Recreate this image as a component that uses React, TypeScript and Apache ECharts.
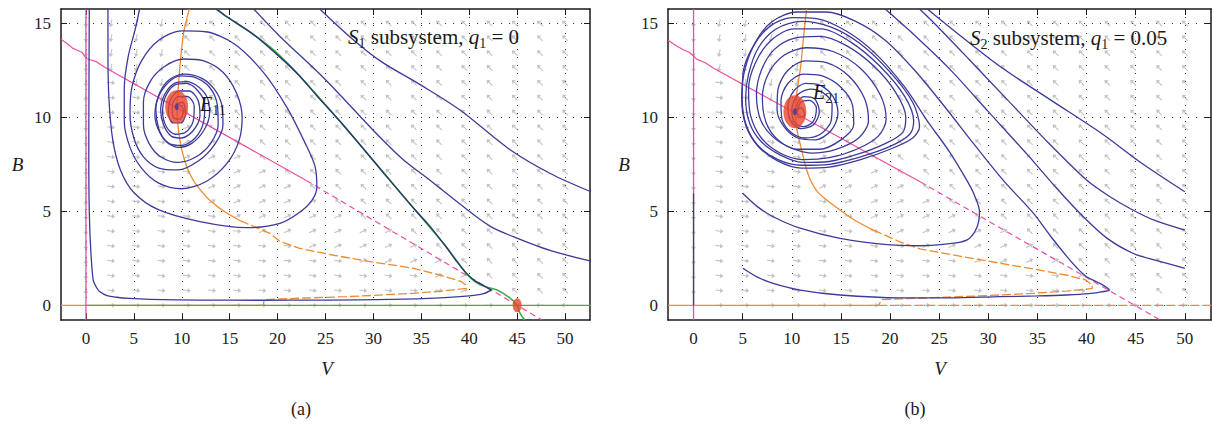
import React, { useEffect, useRef } from "react";
import * as echarts from "echarts";

const FONT = "Liberation Serif, serif";
const BLUE = "#3c3b9b";
const NAVY = "#27386c";
const GREEN = "#3fae4b";
const ORANGE = "#f28a2c";
const MAGENTA = "#ee4e9f";
const RED = "#e9452d";
const ARROW_GRAY = "#b4b4b4";

const X_TICKS = [0, 5, 10, 15, 20, 25, 30, 35, 40, 45, 50];
const Y_TICKS = [0, 5, 10, 15];

// vector-field grid
const FIELD_V = [0, 2.63, 5.26, 7.89, 10.53, 13.16, 15.79, 18.42, 21.05, 23.68, 26.32, 28.95, 31.58, 34.21, 36.84, 39.47, 42.11, 44.74, 47.37, 50];
const FIELD_B = [0, 0.79, 1.58, 2.37, 3.16, 3.95, 4.74, 5.53, 6.32, 7.11, 7.89, 8.68, 9.47, 10.26, 11.05, 11.84, 12.63, 13.42, 14.21, 15];
// rows from B = 15 (top) down to B = 0
const FIELD_DIR_A = [
  "dUUUUAAAAAAAAAAAAAAA",
  "dUUUAAAAAAAAAAAAAAAA",
  "dUUUAAAAAAAAAAAAAAAA",
  "dUUUAAAAAAAAAAAAAAAA",
  "dLUUAAAAAAAAAAAAAAAA",
  "dLLUAAAAAAAAAAAAAAAA",
  "dLLLAAAAAAAAAAAAAAAA",
  "dLLLRAAAAAAAAAAAAAAA",
  "dLLLRRAAAAAAAAAAAAAA",
  "dLLLRRRAAAAAAAAAAAAA",
  "dLLLLRRRAAAAAAAAAAAA",
  "dLLLLRRRRAAAAAAAAAAA",
  "dLLLLRRRRRAAAAAAAAAA",
  "dLLLLLRRRRRAAAAAAAAA",
  "dLLLLLLRRRRRRAAAAAAA",
  "dLLLLLLLLRRRRRAAAAAA",
  "dLLLLLLLLLLRRRRAAAAA",
  "dLLLLLLLLLLLLLRRAAAA",
  "dLLLLLLLLLLLLLLRRAAA",
  ".rrrrrrrrrrrrrrrrrll",
];
const FIELD_DIR_B = [
  "dUUUUAAAAAAAAAAAAAAA",
  "dUUUUAAAAAAAAAAAAAAA",
  "dUUUUAAAAAAAAAAAAAAA",
  "dUUUUAAAAAAAAAAAAAAA",
  "dLUUUAAAAAAAAAAAAAAA",
  "dLLUUAAAAAAAAAAAAAAA",
  "dLLLAAAAAAAAAAAAAAAA",
  "dLLLLAAAAAAAAAAAAAAA",
  "dLLLLRAAAAAAAAAAAAAA",
  "dLLLLRRAAAAAAAAAAAAA",
  "dLLLLRRRAAAAAAAAAAAA",
  "dLLLLRRRRAAAAAAAAAAA",
  "dLLLLLRRRRAAAAAAAAAA",
  "dLLLLLLRRRRAAAAAAAAA",
  "dLLLLLLLRRRRRAAAAAAA",
  "dLLLLLLLLRRRRRAAAAAA",
  "dLLLLLLLLLLRRRRAAAAA",
  "dLLLLLLLLLLLLLLRAAAA",
  "dLLLLLLLLLLLLLLLRAAA",
  ".rrrrrrrrrrrrrrrrrll",
];
const DIR_ANGLE: Record<string, number> = { A: 135, U: 258, L: -8, R: 25, d: 270, r: 0, l: 180 };

// ---------- panel (a): S1 subsystem ----------
const A_MAGENTA_SOLID = [[-2.6, 14.15], [-1.9, 13.9], [-1.4, 13.68], [-0.97, 13.58], [-0.4, 13.45], [0, 13.14], [0.5, 13.05], [1.1, 12.96], [2, 12.65], [23, 6.64]];
const A_MAGENTA_DASH = [[23, 6.64], [47.6, -0.78]];
const A_MAGENTA_V0 = [[0, -0.78], [0, 15.76]];
const A_ORANGE_SOLID = [[10.8, 15.76], [10.5, 15.2], [10.2, 14.5], [9.9, 13.2], [9.7, 12], [9.55, 11], [9.5, 10.5], [9.6, 9.6], [9.8, 8.8], [10.0, 8.27], [10.5, 7.4], [11.2, 6.65], [12.0, 6.1], [12.9, 5.6], [14.4, 5.0], [16.1, 4.5]];
const A_ORANGE_DASH = [[16.1, 4.5], [19.2, 3.83], [20.25, 3.4], [22.3, 3.03], [26, 2.65], [30, 2.3], [34.2, 1.97], [37, 1.6], [39.2, 1.26], [39.6, 1.1], [39.7, 0.9], [37, 0.75], [34.2, 0.64], [30, 0.53], [27.2, 0.46], [23, 0.39], [20.3, 0.34], [18.6, 0.3], [18.5, 0]];
const A_ORANGE_AXIS = [[-2.6, 0], [18.5, 0]];
const A_GREEN_AXIS = [[0, 0], [52.7, 0]];
const A_GREEN_MANIFOLD = [[13.6, 15.76], [14.7, 15.35], [17.5, 14.4], [19.55, 13.6], [22.3, 12.2], [27, 9.5], [31.7, 6.66], [34.2, 5.16], [37.6, 3.1], [39.7, 1.7], [41.1, 1.1], [42.9, 0.81], [44.3, 0.37], [45, 0], [45.3, -0.43], [45.8, -0.78]];
const A_BLUE_BOTTOM = [[0.35, 15.76], [0.32, 12], [0.3, 8], [0.35, 5], [0.5, 3], [0.76, 1.35], [1.1, 0.95], [1.46, 0.72], [2.2, 0.52], [3.2, 0.43], [4.5, 0.37], [6.7, 0.32], [12, 0.28], [18.2, 0.27], [25, 0.28], [32, 0.32], [37, 0.4], [40, 0.5], [41.5, 0.62], [42.3, 0.81]];
const A_NAVY = [[42.3, 0.81], [41.5, 1.05], [40.6, 1.3], [39.7, 1.7], [38.6, 2.4], [37.6, 3.1], [35.9, 4.2], [34.2, 5.16], [31.7, 6.66], [27, 9.5], [24, 11.2], [22.3, 12.2], [20.25, 13.2], [17.5, 14.4], [14.7, 15.35], [13.6, 15.76]];
const A_R1 = [[24.4, 15.76], [27.5, 14.3], [30.7, 13.0], [35, 11.7], [39, 10.4], [44.3, 8.26], [48.5, 7.0], [52.7, 6.04]];
const A_R2 = [[17.5, 15.76], [20.25, 14.3], [25, 12.0], [30, 9.3], [33, 7.8], [35.9, 6.65], [39.5, 5.2], [42.2, 4.2], [44.6, 3.65], [47.4, 3.1], [50, 2.7], [52.7, 2.35]];
const A_S1 = [[2.3, 15.76], [2.3, 13.5], [2.4, 11], [2.8, 8.8], [3.6, 7.2], [5, 6.0], [7.5, 5.1], [11.9, 4.45], [16.8, 4.13], [20.25, 4.36], [22.3, 4.95], [23.6, 5.6], [24.1, 6.3], [23.9, 7.4], [22.9, 8.6], [21, 10.5], [18.5, 12.4], [15.5, 13.9], [12.5, 14.55], [10, 14.6], [7.6, 14.1], [5.8, 13.0], [4.8, 11.6], [4.6, 10.2], [5.0, 8.9], [6.0, 7.9], [7.6, 7.3], [9.6, 7.2], [11.8, 7.7], [13.5, 8.6], [14.3, 9.6], [14.2, 10.6], [13.4, 11.5], [12.0, 12.1], [10.3, 12.3], [8.7, 12.0], [7.7, 11.3], [7.3, 10.4], [7.6, 9.4], [8.4, 8.7], [9.6, 8.4], [11, 8.6], [12.3, 9.3], [12.9, 10.2], [12.7, 11], [11.8, 11.6], [10.5, 11.9], [9.2, 11.8], [8.2, 11.2], [7.8, 10.4], [8.1, 9.6], [8.9, 9.0], [10, 8.9], [11.2, 9.3], [11.9, 10.1], [11.7, 10.9], [10.8, 11.4], [9.7, 11.4], [8.8, 10.9], [8.6, 10.2], [9.1, 9.7], [9.9, 9.7], [10.4, 10.2], [10.1, 10.8], [9.5, 10.7]];
const A_S2 = [[5.6, 15.76], [5.2, 14.8], [4.4, 13.2], [4.0, 11.5], [4.0, 9.8], [4.6, 8.4], [5.8, 7.3], [7.6, 6.5], [10, 6.2], [12.6, 6.6], [14.8, 7.6], [16, 8.8], [16.3, 10], [15.7, 11.3], [14.3, 12.4], [12.3, 13.0], [10.2, 13.1], [8.2, 12.7], [6.7, 11.9], [6.0, 10.8], [6.0, 9.6], [6.6, 8.6], [7.8, 7.9], [9.6, 7.6], [11.5, 7.9], [13, 8.6], [13.8, 9.6], [13.7, 10.7], [12.9, 11.6], [11.5, 12.1], [9.9, 12.2], [8.5, 11.8], [7.5, 11.0], [7.2, 10.1], [7.7, 9.2], [8.7, 8.6], [10, 8.5], [11.4, 8.9], [12.3, 9.8], [12.4, 10.7], [11.7, 11.4], [10.5, 11.8], [9.2, 11.7], [8.3, 11.1], [8.0, 10.3], [8.4, 9.5], [9.3, 9.1], [10.4, 9.2], [11.2, 9.8], [11.3, 10.6], [10.6, 11.1], [9.6, 11.1], [9.0, 10.6], [9.1, 10.0], [9.8, 9.9], [10.2, 10.4], [9.7, 10.7]];
const A_EQ = [[9.47, 10.56]];
const A_SADDLE = [[45, 0]];

// ---------- panel (b): S2 subsystem ----------
const B_MAGENTA_SOLID = [[-2.6, 14.1], [-1.8, 13.82], [-1.0, 13.58], [-0.4, 13.45], [0.35, 13.08], [1.2, 12.9], [2, 12.62], [23.06, 6.57]];
const B_MAGENTA_DASH = [[23.06, 6.57], [47.5, -0.78]];
const B_MAGENTA_V0 = [[0, -0.78], [0, 15.76]];
const B_BLUE_V0 = [[0, 5.96], [0, 0]];
const B_ORANGE_SOLID = [[11.5, 15.76], [11.2, 14.3], [10.9, 12.7], [10.5, 11.3], [10.35, 10.4], [10.5, 9.4], [11.0, 8.26], [11.4, 7.4], [11.9, 6.65], [12.6, 6.05], [13.55, 5.6], [14.9, 5.07], [16.5, 4.5], [18.3, 4.0]];
const B_ORANGE_DASH = [[18.3, 4.0], [21, 3.38], [23.05, 3.0], [25.1, 2.8], [30, 2.35], [34.6, 1.93], [38, 1.6], [39.9, 1.35], [40.5, 1.1], [40.6, 0.9], [38, 0.76], [34.6, 0.64], [30, 0.52], [25, 0.42], [21, 0.34], [19.2, 0.3], [18.8, 0]];
const B_ORANGE_AXIS_SOLID = [[-2.6, 0], [18.8, 0]];
const B_ORANGE_AXIS_DASH = [[18.8, 0], [52.7, 0]];
const B_II = [[5.0, 5.96], [6.5, 5.25], [8.1, 4.71], [10.85, 4.1], [14.9, 3.56], [20, 3.21], [23, 3.17], [25.4, 3.24], [27.8, 3.47], [28.8, 4.1], [29.1, 4.98], [28.5, 5.96], [27.8, 6.66], [26, 8.2], [23.8, 9.8], [21.5, 11.6], [18.5, 13.4], [15.5, 14.6], [12.5, 15.25], [10, 15.3], [7.8, 14.85], [6.1, 13.8], [5.05, 12.4], [4.95, 11], [5.35, 9.6], [6.55, 8.5], [8.6, 7.75], [11, 7.45], [13.8, 7.5], [17, 7.9], [20, 8.45], [22, 9.1], [22.4, 9.8], [21.5, 11.1], [19, 12.7], [16, 14.0], [13, 14.7], [10.2, 14.7], [7.9, 14.1], [6.3, 12.9], [5.6, 11.5], [5.8, 10.1], [6.9, 8.9], [8.8, 8.1], [11.1, 7.75], [13.8, 7.85], [16.6, 8.3], [18.8, 9.0], [19.6, 9.9], [19, 11.2], [17, 12.6], [14.2, 13.5], [11.5, 13.7], [9.2, 13.3], [7.6, 12.3], [7, 11], [7.4, 9.7], [8.6, 8.8], [10.5, 8.3], [12.8, 8.3], [15, 8.8], [16.3, 9.6], [16.2, 10.6], [15, 11.6], [13.1, 12.2], [11.2, 12.3], [9.6, 11.8], [8.9, 10.9], [9.0, 9.9], [9.9, 9.2], [11.3, 8.9], [12.9, 9.1], [14, 9.8], [14.1, 10.7], [13.2, 11.3], [11.9, 11.5], [10.6, 11.2], [10, 10.4], [10.3, 9.7], [11.2, 9.5], [12.2, 9.8], [12.5, 10.5], [11.8, 10.9], [10.9, 10.8], [10.6, 10.3]];
const B_III = [[5.02, 1.97], [6.5, 1.5], [8.1, 1.17], [10.85, 0.81], [14.9, 0.55], [21, 0.4], [26, 0.4], [31.2, 0.46], [35, 0.5], [38, 0.55], [40.2, 0.62], [41.5, 0.72], [42.3, 0.81], [41.5, 1.13], [40, 1.52], [39, 2.0], [38, 2.59], [36.3, 3.7], [34.6, 4.89], [31.5, 6.66], [28.5, 8.6], [25.5, 10.6], [22.5, 12.5], [19.5, 14.1], [16.5, 15.1], [13.5, 15.6], [10.5, 15.6], [8, 15.1], [6.3, 14.0], [5.2, 12.5], [4.9, 11], [5.3, 9.6], [6.5, 8.5], [8.5, 7.7], [11, 7.3], [13.8, 7.35], [17, 7.75], [20, 8.3], [22.3, 8.9], [23, 9.5], [22.3, 10.8], [20, 12.4], [17, 13.9], [14, 14.8], [11, 15.1], [8.4, 14.7], [6.6, 13.7], [5.6, 12.3], [5.3, 11], [5.7, 9.7], [6.9, 8.7], [8.8, 8.0], [11.1, 7.6], [13.8, 7.65], [16.8, 8.05], [19.5, 8.6], [21.3, 9.2], [21.6, 10.0], [20.6, 11.3], [18.4, 12.7], [15.6, 13.8], [12.8, 14.3], [10.2, 14.2], [8.2, 13.6], [6.9, 12.5], [6.4, 11.2], [6.8, 9.9], [8, 9.0], [9.8, 8.4], [12, 8.1], [14.5, 8.3], [16.8, 8.9], [17.8, 9.8], [17.4, 11.0], [15.8, 12.2], [13.6, 12.9], [11.4, 13.0], [9.6, 12.5], [8.6, 11.5], [8.5, 10.4], [9.2, 9.5], [10.6, 8.9], [12.4, 8.8], [14.0, 9.3], [14.7, 10.2], [14.2, 11.1], [12.9, 11.7], [11.4, 11.8], [10.2, 11.4], [9.6, 10.6], [9.9, 9.8], [10.9, 9.4], [12.2, 9.6], [12.8, 10.3], [12.3, 11], [11.2, 11.1], [10.5, 10.6], [10.7, 10.0], [11.3, 10.1], [11.0, 10.5], [10.4, 10.4]];
const B_RA = [[50, 6.04], [45.5, 7.6], [41.5, 9.15], [36.4, 10.9], [31.2, 12.7], [27, 14.4], [25.1, 15.2], [23.8, 15.76]];
const B_RB = [[50, 4.0], [47, 4.5], [44.7, 5.07], [42.3, 5.8], [40, 6.66], [36, 8.7], [32, 10.9], [28, 13.1], [24.5, 15.0], [23, 15.76]];
const B_RC = [[50, 1.97], [47, 2.4], [44.7, 2.77], [42, 3.6], [39.5, 4.8], [37, 6.2], [34, 8.0], [30, 10.3], [26, 12.6], [22, 14.6], [19.5, 15.76]];
const B_EQ = [[10.31, 10.3]];

const ARROW = "path://M0,3.4L6,3.4L6,1.2L10,4L6,6.8L6,4.6L0,4.6Z";

function fieldData(dirs: string[]) {
  const out: any[] = [];
  dirs.forEach((row, r) => {
    const b = FIELD_B[FIELD_B.length - 1 - r];
    for (let k = 0; k < row.length; k++) {
      const ch = row[k];
      if (ch === ".") continue;
      out.push({ value: [FIELD_V[k], b], symbolRotate: DIR_ANGLE[ch] });
    }
  });
  return out;
}

function ln(data: number[][], gi: number, color: string, width = 1.3, type: any = "solid", smooth: number | boolean = false) {
  return {
    type: "line",
    xAxisIndex: gi * 2,
    yAxisIndex: gi * 2,
    data,
    showSymbol: false,
    symbol: "none",
    silent: true,
    clip: true,
    smooth,
    z: 3,
    lineStyle: { color, width, type },
  };
}

function axesFor(gi: number, xmin: number, xmax: number) {
  const lineCol = "#1a1a1a";
  const lbl = { show: true, color: "#222", fontFamily: FONT, fontSize: 17, fontWeight: "normal", margin: 10 };
  const x = [
    {
      type: "value", gridIndex: gi, min: xmin, max: xmax, position: "bottom",
      axisLine: { show: true, onZero: false, lineStyle: { color: lineCol, width: 1.5 } },
      axisTick: { show: true, inside: true, length: 6, customValues: X_TICKS, lineStyle: { color: lineCol, width: 1 } },
      axisLabel: { ...lbl, customValues: X_TICKS },
      splitLine: { show: true, lineStyle: { color: "#333", width: 1, type: [1, 7] } },
    },
    {
      type: "value", gridIndex: gi, min: xmin, max: xmax, position: "top",
      axisLine: { show: true, onZero: false, lineStyle: { color: lineCol, width: 1.5 } },
      axisTick: { show: true, inside: true, length: 6, customValues: X_TICKS, lineStyle: { color: lineCol, width: 1 } },
      axisLabel: { show: false },
      splitLine: { show: false },
    },
  ];
  const y = [
    {
      type: "value", gridIndex: gi, min: -0.78, max: 15.76, position: "left",
      axisLine: { show: true, onZero: false, lineStyle: { color: lineCol, width: 1.5 } },
      axisTick: { show: true, inside: true, length: 6, customValues: Y_TICKS, lineStyle: { color: lineCol, width: 1 } },
      axisLabel: { ...lbl, customValues: Y_TICKS },
      splitLine: { show: true, lineStyle: { color: "#333", width: 1, type: [1, 7] } },
    },
    {
      type: "value", gridIndex: gi, min: -0.78, max: 15.76, position: "right",
      axisLine: { show: true, onZero: false, lineStyle: { color: lineCol, width: 1.5 } },
      axisTick: { show: true, inside: true, length: 6, customValues: Y_TICKS, lineStyle: { color: lineCol, width: 1 } },
      axisLabel: { show: false },
      splitLine: { show: false },
    },
  ];
  return { x, y };
}

function richText(x: number, y: number, text: string, size: number, subSize: number, subPad: number) {
  return {
    type: "text", x, y, z: 100, silent: true,
    style: {
      text, fill: "#1a1a1a", fontFamily: FONT, fontSize: size, align: "left", verticalAlign: "middle",
      rich: {
        i: { fontFamily: FONT, fontSize: size, fontStyle: "italic", fill: "#1a1a1a" },
        n: { fontFamily: FONT, fontSize: size, fill: "#1a1a1a" },
        s: { fontFamily: FONT, fontSize: subSize, fill: "#1a1a1a", padding: [subPad, 0, 0, 0] },
      },
    },
  };
}

function plainText(x: number, y: number, text: string, size: number, italic: boolean) {
  return {
    type: "text", x, y, z: 100, silent: true,
    style: {
      text, fill: "#1a1a1a", align: "center", verticalAlign: "middle",
      fontFamily: FONT, fontSize: size, fontStyle: italic ? "italic" : "normal",
    },
  };
}

export default function App() {
  const ref = useRef<HTMLDivElement>(null);
  useEffect(() => {
    if (!ref.current) return;
    const chart = echarts.init(ref.current, undefined, { renderer: "svg" });
    const a = axesFor(0, -2.6, 52.6);
    const b = axesFor(1, -2.6, 52.66);
    const S = 0.3;
    const series: any[] = [
      // panel (a)
      { type: "scatter", xAxisIndex: 0, yAxisIndex: 0, data: fieldData(FIELD_DIR_A), symbol: ARROW, symbolSize: [8, 5], itemStyle: { color: ARROW_GRAY }, silent: true, z: 1 },
      ln(A_ORANGE_AXIS, 0, ORANGE, 1.4),
      ln(A_GREEN_AXIS, 0, GREEN, 1.4),
      ln(A_MAGENTA_V0, 0, MAGENTA, 1.3),
      ln(A_MAGENTA_SOLID, 0, MAGENTA, 1.2),
      ln(A_MAGENTA_DASH, 0, MAGENTA, 1.2, [6, 4]),
      ln(A_ORANGE_SOLID, 0, ORANGE, 1.3, "solid", S),
      ln(A_ORANGE_DASH, 0, ORANGE, 1.3, [9, 3]),
      ln(A_GREEN_MANIFOLD, 0, GREEN, 1.6, "solid", S),
      ln(A_R1, 0, BLUE, 1.3, "solid", S),
      ln(A_R2, 0, BLUE, 1.3, "solid", S),
      ln(A_S1, 0, BLUE, 1.3, "solid", S),
      ln(A_S2, 0, BLUE, 1.3, "solid", S),
      ln(A_BLUE_BOTTOM, 0, BLUE, 1.3, "solid", S),
      ln(A_NAVY, 0, NAVY, 1.4, "solid", S),
      { type: "scatter", xAxisIndex: 0, yAxisIndex: 0, data: A_EQ, symbol: "circle", symbolSize: [23, 33], itemStyle: { color: RED }, silent: true, z: 6 },
      { type: "scatter", xAxisIndex: 0, yAxisIndex: 0, data: A_SADDLE, symbol: "circle", symbolSize: [9, 14], itemStyle: { color: RED }, silent: true, z: 6 },
      { type: "scatter", xAxisIndex: 0, yAxisIndex: 0, data: A_EQ, symbol: "circle", symbolSize: [4, 7], itemStyle: { color: BLUE }, silent: true, z: 7 },
      // panel (b)
      { type: "scatter", xAxisIndex: 2, yAxisIndex: 2, data: fieldData(FIELD_DIR_B), symbol: ARROW, symbolSize: [8, 5], itemStyle: { color: ARROW_GRAY }, silent: true, z: 1 },
      ln(B_ORANGE_AXIS_SOLID, 1, ORANGE, 1.4),
      ln(B_ORANGE_AXIS_DASH, 1, ORANGE, 1.4, [9, 3]),
      ln(B_MAGENTA_V0, 1, MAGENTA, 1.3),
      ln(B_BLUE_V0, 1, BLUE, 1.3),
      ln(B_MAGENTA_SOLID, 1, MAGENTA, 1.2),
      ln(B_MAGENTA_DASH, 1, MAGENTA, 1.2, [6, 4]),
      ln(B_ORANGE_SOLID, 1, ORANGE, 1.3, "solid", S),
      ln(B_ORANGE_DASH, 1, ORANGE, 1.3, [9, 3]),
      ln(B_RA, 1, BLUE, 1.3, "solid", S),
      ln(B_RB, 1, BLUE, 1.3, "solid", S),
      ln(B_RC, 1, BLUE, 1.3, "solid", S),
      ln(B_II, 1, BLUE, 1.3, "solid", S),
      ln(B_III, 1, BLUE, 1.3, "solid", S),
      { type: "scatter", xAxisIndex: 2, yAxisIndex: 2, data: B_EQ, symbol: "circle", symbolSize: [23, 33], itemStyle: { color: RED }, silent: true, z: 6 },
      { type: "scatter", xAxisIndex: 2, yAxisIndex: 2, data: B_EQ, symbol: "circle", symbolSize: [4, 7], itemStyle: { color: BLUE }, silent: true, z: 7 },
    ];
    chart.setOption({
      animation: false,
      backgroundColor: "#ffffff",
      textStyle: { fontFamily: FONT },
      grid: [
        { left: 61, top: 9, width: 529, height: 311 },
        { left: 668, top: 9, width: 543, height: 311 },
      ],
      xAxis: [...a.x, ...b.x],
      yAxis: [...a.y, ...b.y],
      series,
      graphic: [
        richText(348, 37, "{i|S}{s|1}{n| subsystem, }{i|q}{s|1}{n| = 0}", 21, 14, 12),
        richText(970, 38, "{i|S}{s|2}{n| subsystem, }{i|q}{s|1}{n| = 0.05}", 21, 14, 12),
        richText(200, 104, "{i|E}{s|11}", 20, 14, 12),
        richText(813, 92, "{i|E}{s|21}", 20, 14, 12),
        plainText(17.5, 164, "B", 19, true),
        plainText(624, 164, "B", 19, true),
        plainText(327, 368, "V", 19, true),
        plainText(940, 368, "V", 19, true),
        plainText(301, 409, "(a)", 18, false),
        plainText(915, 409, "(b)", 18, false),
      ],
    });
    return () => chart.dispose();
  }, []);
  return <div ref={ref} style={{ position: "absolute", left: 0, top: 0, width: 1212, height: 425 }} />;
}
